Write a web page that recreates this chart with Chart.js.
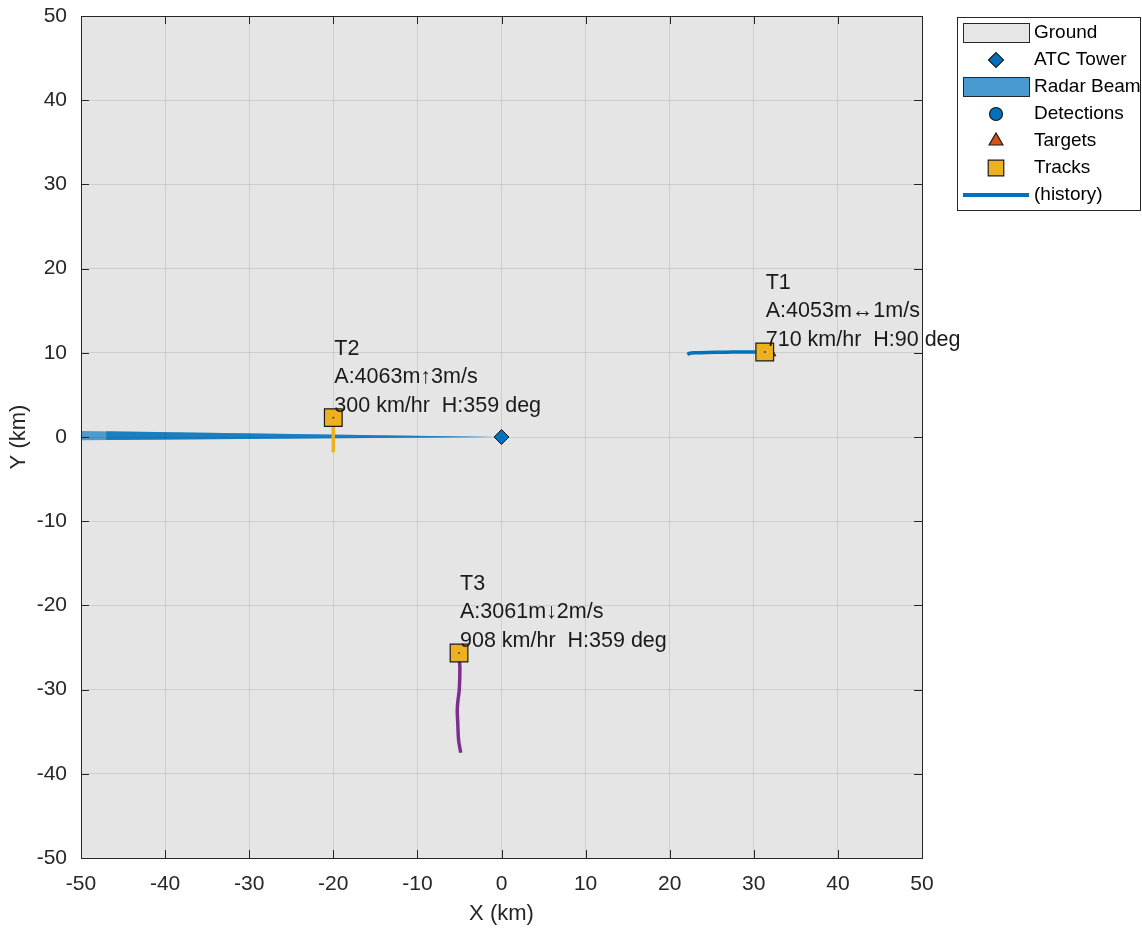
<!DOCTYPE html>
<html><head><meta charset="utf-8">
<script src="https://cdn.jsdelivr.net/npm/chart.js@4.4.1/dist/chart.umd.min.js"></script>
<style>html,body{margin:0;padding:0;background:#fff;}#wrap{width:1142px;height:929px;}</style>
</head><body><div id="wrap"><canvas id="c" width="1142" height="929"></canvas></div>
<script>
// ---- data ----
const axisTicks = [-50, -40, -30, -20, -10, 0, 10, 20, 30, 40, 50];
const groundX = [-50, 50];
const groundY = [50, 50];
const towerX = [0];
const towerY = [0];
const beamX = [0, -50, -50, 0];
const beamY = [0, 0.72, -0.38, 0];
const beamCoreX = [-1, -47, -47, -1];
const beamCoreY = [0.01, 0.68, -0.36, 0.0];
const detectionX = [];
const detectionY = [];
const targetX = [32.0, -20.0, -5.0];
const targetY = [10.0, 2.3, -25.35];
const trackNames = ['T1', 'T2', 'T3'];
const trackX = [31.3, -20.0, -5.05];
const trackY = [10.1, 2.3, -25.65];
const trackAlt = ['A:4053m\u21941m/s', 'A:4063m\u21913m/s', 'A:3061m\u21932m/s'];
const trackSpeed = ['710 km/hr  H:90 deg', '300 km/hr  H:359 deg', '908 km/hr  H:359 deg'];
const hist1X = [22.1, 22.4, 23.0, 24.5, 26.5, 28.5, 30.0, 31.3];
const hist1Y = [9.8, 9.95, 10.0, 10.05, 10.08, 10.1, 10.1, 10.1];
const hist2X = [-20.0, -20.0];
const hist2Y = [2.3, -1.8];
const hist3X = [-5.05, -4.95, -5.02, -5.2, -5.26, -5.2, -5.1, -4.85];
const hist3Y = [-25.65, -27.5, -30.0, -31.5, -32.5, -34.0, -36.0, -37.5];

const FONT = "'Liberation Sans', Arial, Helvetica, sans-serif";
const pts = (xs, ys) => xs.map((v, i) => ({x: v, y: ys[i]}));

const datasets = [
  {type: 'line', label: 'Ground', legendKind: 'patch', data: pts(groundX, groundY), showLine: true,
   borderWidth: 0, pointRadius: 0, backgroundColor: '#e5e5e5', legendColor: '#e6e6e6', fill: 'start', order: 20},
  {type: 'scatter', label: 'ATC Tower', legendKind: 'marker', data: pts(towerX, towerY), pointStyle: 'rectRot',
   pointRadius: 7.5, backgroundColor: '#0072BD', borderColor: '#1a1a1a', borderWidth: 1, order: 5},
  {type: 'line', label: 'Radar Beam', legendKind: 'patch', data: pts(beamX, beamY), showLine: true, fill: 'shape',
   borderWidth: 0, pointRadius: 0, backgroundColor: 'rgba(0,114,189,0.65)', legendColor: 'rgba(0,114,189,0.72)', order: 16},
  {type: 'line', label: '', data: pts(beamCoreX, beamCoreY), showLine: true, fill: 'shape',
   borderWidth: 0, pointRadius: 0, backgroundColor: 'rgba(0,114,189,0.69)', order: 15},
  {type: 'scatter', label: 'Detections', legendKind: 'marker', data: pts(detectionX, detectionY), pointStyle: 'circle',
   pointRadius: 6.5, backgroundColor: '#0072BD', borderColor: '#1a1a1a', borderWidth: 1, order: 4},
  {type: 'scatter', label: 'Targets', legendKind: 'marker', data: pts(targetX, targetY), pointStyle: 'triangle',
   pointRadius: 6, backgroundColor: '#D95319', borderColor: '#1a1a1a', borderWidth: 1, legendRadius: 8, order: 6},
  {type: 'scatter', label: 'Tracks', legendKind: 'marker', data: pts(trackX, trackY), pointStyle: 'rect',
   pointRadius: 12.5, backgroundColor: '#EDB120', borderColor: '#1a1a1a', borderWidth: 1.2, legendRadius: 11, order: 3},
  {type: 'scatter', label: '', data: pts(trackX, trackY), pointStyle: 'circle',
   pointRadius: 1, backgroundColor: '#5a3a10', borderWidth: 0, order: 2},
  {type: 'line', label: '(history)', legendKind: 'line', data: pts(hist1X, hist1Y), showLine: true, fill: false,
   borderColor: '#0072BD', borderWidth: 3.5, pointRadius: 0, tension: 0.3, order: 10},
  {type: 'line', label: '', data: pts(hist2X, hist2Y), showLine: true, fill: false,
   borderColor: '#EDB120', borderWidth: 3.5, pointRadius: 0, order: 10},
  {type: 'line', label: '', data: pts(hist3X, hist3Y), showLine: true, fill: false,
   borderColor: '#7E2F8E', borderWidth: 3.5, pointRadius: 0, tension: 0.3, order: 10}
];

const overlay = {
  id: 'overlay',
  afterDraw(chart) {
    const {ctx, chartArea: a, scales: {x, y}} = chart;
    ctx.save();
    // inside ticks + box
    ctx.strokeStyle = '#262626';
    ctx.lineWidth = 1;
    ctx.beginPath();
    axisTicks.forEach(v => {
      const px = Math.round(x.getPixelForValue(v)) + 0.5;
      ctx.moveTo(px, a.bottom); ctx.lineTo(px, a.bottom - 8);
      ctx.moveTo(px, a.top); ctx.lineTo(px, a.top + 8);
      const py = Math.round(y.getPixelForValue(v)) + 0.5;
      ctx.moveTo(a.left, py); ctx.lineTo(a.left + 8, py);
      ctx.moveTo(a.right, py); ctx.lineTo(a.right - 8, py);
    });
    ctx.stroke();
    ctx.strokeRect(Math.round(a.left) + 0.5, Math.round(a.top) + 0.5, Math.round(a.width), Math.round(a.height));

    // track annotations
    ctx.fillStyle = '#1a1a1a';
    ctx.font = '21.5px ' + FONT;
    ctx.textAlign = 'left';
    ctx.textBaseline = 'middle';
    trackNames.forEach((n, i) => {
      const px = x.getPixelForValue(trackX[i]) + 1;
      const py = y.getPixelForValue(trackY[i]);
      const lines = [n, trackAlt[i], trackSpeed[i]];
      lines.forEach((t, k) => ctx.fillText(t, px, py - 12 - (2 - k) * 28.5));
    });

    // legend
    const lx = 957.5, ly = 17.5, lw = 183, lh = 193;
    ctx.fillStyle = '#ffffff';
    ctx.fillRect(lx, ly, lw, lh);
    ctx.strokeStyle = '#262626';
    ctx.lineWidth = 1;
    ctx.strokeRect(lx, ly, lw, lh);
    const items = chart.data.datasets.filter(d => d.label && d.legendKind);
    items.forEach((d, i) => {
      const cy = 33 + i * 27;
      const cx = 996;
      if (d.legendKind === 'patch') {
        ctx.fillStyle = d.legendColor;
        ctx.fillRect(963.5, cy - 9.5, 66, 19);
        ctx.strokeStyle = '#262626';
        ctx.lineWidth = 1;
        ctx.strokeRect(963.5, cy - 9.5, 66, 19);
      } else if (d.legendKind === 'line') {
        ctx.strokeStyle = d.borderColor;
        ctx.lineWidth = 4;
        ctx.beginPath(); ctx.moveTo(963, cy); ctx.lineTo(1029, cy); ctx.stroke();
      } else {
        ctx.fillStyle = d.backgroundColor;
        ctx.strokeStyle = d.borderColor;
        ctx.lineWidth = 1.2;
        Chart.helpers.drawPoint(ctx, {pointStyle: d.pointStyle, radius: d.legendRadius || d.pointRadius, rotation: 0, borderWidth: 1.2}, cx, cy);
      }
      ctx.fillStyle = '#000';
      ctx.font = '19px ' + FONT;
      ctx.textAlign = 'left';
      ctx.textBaseline = 'middle';
      ctx.fillText(d.label, 1034, cy);
    });
    ctx.restore();
  }
};

const tickFont = {family: FONT, size: 21};
const gridCfg = {color: 'rgba(38,38,38,0.12)', drawTicks: false, lineWidth: 1};

new Chart(document.getElementById('c'), {
  type: 'scatter',
  data: {datasets},
  options: {
    responsive: false,
    animation: false,
    devicePixelRatio: 1,
    layout: {padding: {left: 0, top: 16, right: 220, bottom: 0}},
    plugins: {
      legend: {display: false},
      tooltip: {enabled: false},
      filler: {drawTime: 'beforeDraw'}
    },
    scales: {
      x: {
        type: 'linear', min: -50, max: 50,
        afterBuildTicks: s => { s.ticks = axisTicks.map(v => ({value: v})); },
        ticks: {font: tickFont, color: '#262626', padding: 14, maxRotation: 0, autoSkip: false},
        grid: gridCfg,
        border: {display: false},
        title: {display: true, text: 'X (km)', font: {family: FONT, size: 22}, color: '#262626', padding: {top: 0, bottom: 2}},
        afterFit: s => { s.height = 71; s.paddingLeft = 0; s.paddingRight = 0; }
      },
      y: {
        type: 'linear', min: -50, max: 50,
        afterBuildTicks: s => { s.ticks = axisTicks.map(v => ({value: v})); },
        ticks: {font: tickFont, color: '#262626', padding: 14, autoSkip: false},
        grid: gridCfg,
        border: {display: false},
        title: {display: true, text: 'Y (km)', font: {family: FONT, size: 22}, color: '#262626', padding: {top: 6, bottom: 0}},
        afterFit: s => { s.width = 81; s.paddingTop = 0; s.paddingBottom = 0; }
      }
    }
  },
  plugins: [overlay]
});
</script></body></html>
